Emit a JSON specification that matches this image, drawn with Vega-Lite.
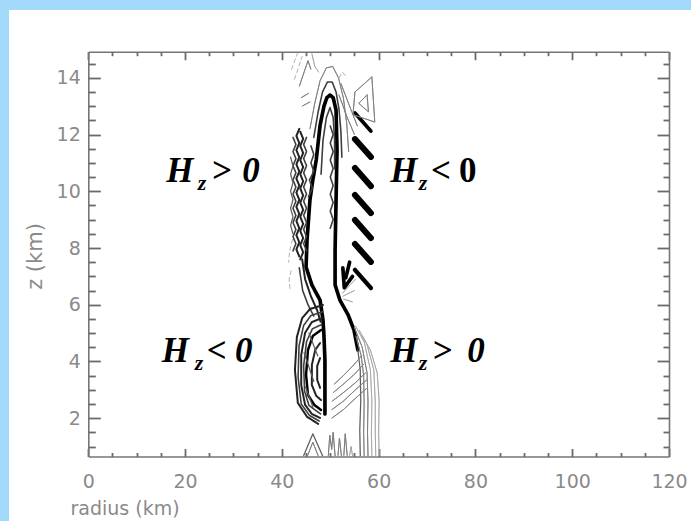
{
  "$schema": "https://vega.github.io/schema/vega-lite/v6.json",
  "width": 682,
  "height": 511,
  "padding": {"left": 9, "top": 10, "right": 0, "bottom": 0},
  "autosize": {"type": "none"},
  "background": "#a3d9fa",
  "config": {
    "view": {"fill": "white", "stroke": null},
    "axis": {
      "grid": false,
      "domainColor": "#767676",
      "domainWidth": 1.6,
      "ticks": true,
      "tickColor": "#6a6a6a",
      "tickWidth": 1.8,
      "tickOpacity": 1,
      "labelColor": "#8a8a8a",
      "labelFont": "DejaVu Sans",
      "labelFontSize": 19,
      "titleColor": "#8a8a8a",
      "titleFont": "DejaVu Sans",
      "titleFontSize": 19,
      "titleFontWeight": "normal",
      "labelOverlap": false,
      "labelFlush": false
    }
  },
  "resolve": {"axis": {"x": "independent", "y": "independent"}},
  "layer": [
    {
      "data": {
        "values": [
          {"c":1,"v":9,"s":"p","r":48.9,"z":2.15},{"c":1,"v":9,"s":"p","r":48.9,"z":3.0},{"c":1,"v":9,"s":"p","r":48.9,"z":4.05},{"c":1,"v":9,"s":"p","r":48.7,"z":4.9},{"c":1,"v":9,"s":"p","r":48.5,"z":5.46},{"c":1,"v":9,"s":"p","r":47.9,"z":6.16},{"c":1,"v":9,"s":"p","r":46.2,"z":6.7},{"c":1,"v":9,"s":"p","r":45.0,"z":7.33},{"c":1,"v":9,"s":"p","r":45.2,"z":8.28},{"c":1,"v":9,"s":"p","r":45.8,"z":9.69},{"c":1,"v":9,"s":"p","r":46.4,"z":10.4},{"c":1,"v":9,"s":"p","r":47.1,"z":11.1},{"c":1,"v":9,"s":"p","r":47.9,"z":12.33},{"c":1,"v":9,"s":"p","r":48.7,"z":13.0},{"c":1,"v":9,"s":"p","r":49.3,"z":13.3},{"c":1,"v":9,"s":"p","r":49.95,"z":13.39},{"c":1,"v":9,"s":"p","r":50.6,"z":13.3},{"c":1,"v":9,"s":"p","r":51.2,"z":12.86},{"c":1,"v":9,"s":"p","r":51.4,"z":11.45},{"c":1,"v":9,"s":"p","r":51.2,"z":9.69},{"c":1,"v":9,"s":"p","r":51.0,"z":7.93},{"c":1,"v":9,"s":"p","r":51.0,"z":6.7},{"c":1,"v":9,"s":"p","r":52.0,"z":6.16},{"c":1,"v":9,"s":"p","r":53.7,"z":5.64},{"c":1,"v":9,"s":"p","r":54.9,"z":5.11},{"c":1,"v":9,"s":"p","r":55.7,"z":4.41},

          {"c":2,"v":5,"s":"p","r":48.1,"z":10.6},{"c":2,"v":5,"s":"p","r":48.5,"z":11.8},{"c":2,"v":5,"s":"p","r":49.2,"z":12.6},{"c":2,"v":5,"s":"p","r":49.95,"z":12.95},{"c":2,"v":5,"s":"p","r":50.6,"z":12.6},{"c":2,"v":5,"s":"p","r":50.9,"z":11.8},{"c":2,"v":5,"s":"p","r":50.9,"z":10.8},

          {"c":3,"v":5,"s":"p","r":46.6,"z":11.9},{"c":3,"v":5,"s":"p","r":47.5,"z":12.8},{"c":3,"v":5,"s":"p","r":48.4,"z":13.5},{"c":3,"v":5,"s":"p","r":49.4,"z":13.85},{"c":3,"v":5,"s":"p","r":50.4,"z":13.85},{"c":3,"v":5,"s":"p","r":51.2,"z":13.5},{"c":3,"v":5,"s":"p","r":51.8,"z":12.9},{"c":3,"v":5,"s":"p","r":52.2,"z":12.1},{"c":3,"v":5,"s":"p","r":52.4,"z":11.2},

          {"c":4,"v":3,"s":"p","r":45.8,"z":12.2},{"c":4,"v":3,"s":"p","r":46.8,"z":13.1},{"c":4,"v":3,"s":"p","r":47.9,"z":13.9},{"c":4,"v":3,"s":"p","r":49.2,"z":14.35},{"c":4,"v":3,"s":"p","r":50.5,"z":14.4},{"c":4,"v":3,"s":"p","r":51.7,"z":14.0},{"c":4,"v":3,"s":"p","r":52.7,"z":13.3},{"c":4,"v":3,"s":"p","r":53.4,"z":12.4},{"c":4,"v":3,"s":"p","r":53.8,"z":11.4},

          {"c":5,"v":9,"s":"p","r":55.1,"z":12.76},{"c":5,"v":9,"s":"p","r":58.4,"z":12.12},
          {"c":6,"v":12,"s":"p","r":55.1,"z":11.84},{"c":6,"v":12,"s":"p","r":58.4,"z":11.21},
          {"c":7,"v":12,"s":"p","r":55.1,"z":10.82},{"c":7,"v":12,"s":"p","r":58.4,"z":10.18},
          {"c":8,"v":12,"s":"p","r":55.1,"z":9.87},{"c":8,"v":12,"s":"p","r":58.4,"z":9.23},
          {"c":9,"v":12,"s":"p","r":55.1,"z":8.99},{"c":9,"v":12,"s":"p","r":58.4,"z":8.35},
          {"c":10,"v":12,"s":"p","r":55.1,"z":8.14},{"c":10,"v":12,"s":"p","r":58.4,"z":7.51},
          {"c":11,"v":10,"s":"p","r":55.1,"z":7.23},{"c":11,"v":10,"s":"p","r":58.4,"z":6.59},

          {"c":12,"v":3,"s":"p","r":51.8,"z":13.4},{"c":12,"v":3,"s":"p","r":53.5,"z":12.6},{"c":12,"v":3,"s":"p","r":55.0,"z":12.0},
          {"c":13,"v":3,"s":"p","r":52.2,"z":13.8},{"c":13,"v":3,"s":"p","r":54.0,"z":13.0},{"c":13,"v":3,"s":"p","r":55.6,"z":12.3},
          {"c":14,"v":3,"s":"p","r":58.6,"z":14.03},{"c":14,"v":3,"s":"p","r":55.1,"z":13.5},{"c":14,"v":3,"s":"p","r":54.7,"z":12.7},{"c":14,"v":3,"s":"p","r":59.2,"z":12.44},{"c":14,"v":3,"s":"p","r":58.6,"z":14.03},
          {"c":15,"v":3,"s":"p","r":57.6,"z":13.4},{"c":15,"v":3,"s":"p","r":55.9,"z":13.1},{"c":15,"v":3,"s":"p","r":57.9,"z":12.8},{"c":15,"v":3,"s":"p","r":57.6,"z":13.4},

          {"c":16,"v":2,"s":"n","r":42.0,"z":14.3},{"c":16,"v":2,"s":"n","r":43.2,"z":14.85},
          {"c":17,"v":2,"s":"n","r":42.6,"z":13.95},{"c":17,"v":2,"s":"n","r":44.2,"z":14.75},
          {"c":18,"v":3,"s":"p","r":43.6,"z":13.7},{"c":18,"v":3,"s":"p","r":45.4,"z":14.6},{"c":18,"v":3,"s":"p","r":46.0,"z":14.3},
          {"c":19,"v":3,"s":"p","r":44.0,"z":13.3},{"c":19,"v":3,"s":"p","r":45.5,"z":13.45},
          {"c":20,"v":3,"s":"p","r":44.2,"z":13.0},{"c":20,"v":3,"s":"p","r":45.8,"z":13.15},
          {"c":21,"v":2,"s":"p","r":46.2,"z":14.85},{"c":21,"v":2,"s":"p","r":46.8,"z":14.4},{"c":21,"v":2,"s":"p","r":47.6,"z":14.2},
          {"c":22,"v":2,"s":"n","r":51.8,"z":14.0},{"c":22,"v":2,"s":"n","r":52.5,"z":14.2},{"c":22,"v":2,"s":"n","r":53.3,"z":14.05},

          {"c":23,"v":5,"s":"p","r":42.3,"z":11.9},{"c":23,"v":5,"s":"p","r":42.9,"z":11.65},{"c":23,"v":5,"s":"p","r":42.3,"z":11.4},{"c":23,"v":5,"s":"p","r":42.9,"z":11.15},{"c":23,"v":5,"s":"p","r":42.3,"z":10.9},{"c":23,"v":5,"s":"p","r":42.9,"z":10.65},{"c":23,"v":5,"s":"p","r":42.3,"z":10.4},{"c":23,"v":5,"s":"p","r":42.9,"z":10.15},{"c":23,"v":5,"s":"p","r":42.3,"z":9.9},{"c":23,"v":5,"s":"p","r":42.9,"z":9.65},{"c":23,"v":5,"s":"p","r":42.3,"z":9.4},{"c":23,"v":5,"s":"p","r":42.9,"z":9.15},{"c":23,"v":5,"s":"p","r":42.3,"z":8.9},{"c":23,"v":5,"s":"p","r":42.9,"z":8.65},{"c":23,"v":5,"s":"p","r":42.3,"z":8.4},{"c":23,"v":5,"s":"p","r":42.9,"z":8.15},{"c":23,"v":5,"s":"p","r":42.3,"z":7.9},

          {"c":24,"v":6,"s":"p","r":43.6,"z":12.2},{"c":24,"v":6,"s":"p","r":43.0,"z":11.95},{"c":24,"v":6,"s":"p","r":43.6,"z":11.7},{"c":24,"v":6,"s":"p","r":43.0,"z":11.45},{"c":24,"v":6,"s":"p","r":43.6,"z":11.2},{"c":24,"v":6,"s":"p","r":43.0,"z":10.95},{"c":24,"v":6,"s":"p","r":43.6,"z":10.7},{"c":24,"v":6,"s":"p","r":43.0,"z":10.45},{"c":24,"v":6,"s":"p","r":43.6,"z":10.2},{"c":24,"v":6,"s":"p","r":43.0,"z":9.95},{"c":24,"v":6,"s":"p","r":43.6,"z":9.7},{"c":24,"v":6,"s":"p","r":43.0,"z":9.45},{"c":24,"v":6,"s":"p","r":43.6,"z":9.2},{"c":24,"v":6,"s":"p","r":43.0,"z":8.95},{"c":24,"v":6,"s":"p","r":43.6,"z":8.7},{"c":24,"v":6,"s":"p","r":43.0,"z":8.45},{"c":24,"v":6,"s":"p","r":43.6,"z":8.2},{"c":24,"v":6,"s":"p","r":43.0,"z":7.95},{"c":24,"v":6,"s":"p","r":43.6,"z":7.7},

          {"c":25,"v":6,"s":"p","r":43.8,"z":12.1},{"c":25,"v":6,"s":"p","r":44.4,"z":11.85},{"c":25,"v":6,"s":"p","r":43.8,"z":11.6},{"c":25,"v":6,"s":"p","r":44.4,"z":11.35},{"c":25,"v":6,"s":"p","r":43.8,"z":11.1},{"c":25,"v":6,"s":"p","r":44.4,"z":10.85},{"c":25,"v":6,"s":"p","r":43.8,"z":10.6},{"c":25,"v":6,"s":"p","r":44.4,"z":10.35},{"c":25,"v":6,"s":"p","r":43.8,"z":10.1},{"c":25,"v":6,"s":"p","r":44.4,"z":9.85},{"c":25,"v":6,"s":"p","r":43.8,"z":9.6},{"c":25,"v":6,"s":"p","r":44.4,"z":9.35},{"c":25,"v":6,"s":"p","r":43.8,"z":9.1},{"c":25,"v":6,"s":"p","r":44.4,"z":8.85},{"c":25,"v":6,"s":"p","r":43.8,"z":8.6},{"c":25,"v":6,"s":"p","r":44.4,"z":8.35},{"c":25,"v":6,"s":"p","r":43.8,"z":8.1},{"c":25,"v":6,"s":"p","r":44.4,"z":7.85},{"c":25,"v":6,"s":"p","r":43.8,"z":7.6},

          {"c":26,"v":5,"s":"p","r":45.1,"z":11.9},{"c":26,"v":5,"s":"p","r":44.5,"z":11.65},{"c":26,"v":5,"s":"p","r":45.1,"z":11.4},{"c":26,"v":5,"s":"p","r":44.5,"z":11.15},{"c":26,"v":5,"s":"p","r":45.1,"z":10.9},{"c":26,"v":5,"s":"p","r":44.5,"z":10.65},{"c":26,"v":5,"s":"p","r":45.1,"z":10.4},{"c":26,"v":5,"s":"p","r":44.5,"z":10.15},{"c":26,"v":5,"s":"p","r":45.1,"z":9.9},{"c":26,"v":5,"s":"p","r":44.5,"z":9.65},{"c":26,"v":5,"s":"p","r":45.1,"z":9.4},{"c":26,"v":5,"s":"p","r":44.5,"z":9.15},{"c":26,"v":5,"s":"p","r":45.1,"z":8.9},{"c":26,"v":5,"s":"p","r":44.5,"z":8.65},{"c":26,"v":5,"s":"p","r":45.1,"z":8.4},{"c":26,"v":5,"s":"p","r":44.5,"z":8.15},{"c":26,"v":5,"s":"p","r":45.1,"z":7.9},

          {"c":58,"v":4,"s":"p","r":41.8,"z":11.2},{"c":58,"v":4,"s":"p","r":42.3,"z":10.9},{"c":58,"v":4,"s":"p","r":41.8,"z":10.6},{"c":58,"v":4,"s":"p","r":42.3,"z":10.3},{"c":58,"v":4,"s":"p","r":41.8,"z":10.0},{"c":58,"v":4,"s":"p","r":42.3,"z":9.7},{"c":58,"v":4,"s":"p","r":41.8,"z":9.4},{"c":58,"v":4,"s":"p","r":42.3,"z":9.1},{"c":58,"v":4,"s":"p","r":41.8,"z":8.8},{"c":58,"v":4,"s":"p","r":42.3,"z":8.5},

          {"c":59,"v":5,"s":"p","r":46.0,"z":11.6},{"c":59,"v":5,"s":"p","r":46.6,"z":11.3},{"c":59,"v":5,"s":"p","r":46.0,"z":11.0},{"c":59,"v":5,"s":"p","r":46.6,"z":10.7},{"c":59,"v":5,"s":"p","r":45.7,"z":10.4},{"c":59,"v":5,"s":"p","r":46.3,"z":10.1},{"c":59,"v":5,"s":"p","r":45.5,"z":9.8},

          {"c":27,"v":5,"s":"p","r":50.0,"z":12.3},{"c":27,"v":5,"s":"p","r":50.6,"z":12.0},{"c":27,"v":5,"s":"p","r":50.0,"z":11.7},{"c":27,"v":5,"s":"p","r":50.6,"z":11.4},{"c":27,"v":5,"s":"p","r":50.0,"z":11.1},{"c":27,"v":5,"s":"p","r":50.6,"z":10.8},{"c":27,"v":5,"s":"p","r":50.0,"z":10.5},{"c":27,"v":5,"s":"p","r":50.6,"z":10.2},{"c":27,"v":5,"s":"p","r":50.0,"z":9.9},{"c":27,"v":5,"s":"p","r":50.6,"z":9.6},{"c":27,"v":5,"s":"p","r":50.0,"z":9.3},{"c":27,"v":5,"s":"p","r":50.6,"z":9.0},{"c":27,"v":5,"s":"p","r":50.0,"z":8.7},

          {"c":28,"v":2,"s":"n","r":42.2,"z":8.3},{"c":28,"v":2,"s":"n","r":41.6,"z":7.9},{"c":28,"v":2,"s":"n","r":41.4,"z":7.5},
          {"c":29,"v":2,"s":"n","r":41.9,"z":7.2},{"c":29,"v":2,"s":"n","r":41.5,"z":6.9},{"c":29,"v":2,"s":"n","r":41.7,"z":6.5},
          {"c":30,"v":6,"s":"p","r":44.2,"z":7.6},{"c":30,"v":6,"s":"p","r":44.8,"z":6.9},{"c":30,"v":6,"s":"p","r":46.0,"z":6.3},{"c":30,"v":6,"s":"p","r":47.3,"z":5.8},{"c":30,"v":6,"s":"p","r":48.0,"z":5.4},
          {"c":31,"v":5,"s":"p","r":43.6,"z":7.3},{"c":31,"v":5,"s":"p","r":44.3,"z":6.5},{"c":31,"v":5,"s":"p","r":45.4,"z":6.0},{"c":31,"v":5,"s":"p","r":46.6,"z":5.6},
          {"c":32,"v":9,"s":"p","r":52.6,"z":7.3},{"c":32,"v":9,"s":"p","r":52.9,"z":6.6},{"c":32,"v":9,"s":"p","r":54.6,"z":7.0},
          {"c":33,"v":9,"s":"p","r":53.2,"z":6.95},{"c":33,"v":9,"s":"p","r":54.0,"z":7.5},
          {"c":34,"v":2,"s":"p","r":52.5,"z":6.4},{"c":34,"v":2,"s":"p","r":55.2,"z":6.9},
          {"c":35,"v":2,"s":"p","r":52.6,"z":6.3},{"c":35,"v":2,"s":"p","r":55.0,"z":6.5},
          {"c":36,"v":2,"s":"p","r":52.7,"z":6.2},{"c":36,"v":2,"s":"p","r":54.6,"z":6.1}
        ]
      },
      "mark": {"type": "line", "clip": true, "strokeCap": "round", "strokeJoin": "round"},
      "encoding": {
        "x": {
          "field": "r", "type": "quantitative",
          "scale": {"domain": [0, 120], "range": [79.3, 660], "nice": false, "zero": false},
          "axis": {
            "orient": "bottom",
            "offset": -64.5,
            "values": [0, 20, 40, 60, 80, 100, 120],
            "ticks": false,
            "labelPadding": 16,
            "title": "radius (km)",
            "titleX": 61,
            "titleY": 51.5,
            "titleAlign": "left",
            "titleBaseline": "middle"
          }
        },
        "y": {
          "field": "z", "type": "quantitative",
          "scale": {"domain": [0.65, 14.92], "range": [446.5, 41.7], "nice": false, "zero": false},
          "axis": {
            "orient": "left",
            "offset": -79.3,
            "values": [2, 4, 6, 8, 10, 12, 14],
            "ticks": false,
            "labelPadding": 8,
            "title": "z (km)",
            "titleFontSize": 21,
            "titleX": -53,
            "titleY": 246,
            "titleAngle": -90,
            "titleAlign": "center",
            "titleBaseline": "middle"
          }
        },
        "detail": {"field": "c", "type": "nominal"},
        "order": {"value": null},
        "color": {"field": "v", "type": "quantitative", "scale": {"domain": [1, 7], "range": ["#c4c4c4", "#000000"], "clamp": true}, "legend": null},
        "strokeWidth": {"field": "v", "type": "quantitative", "scale": {"type": "pow", "exponent": 2, "domain": [1, 12], "range": [0.7, 6]}, "legend": null},
        "strokeDash": {"field": "s", "type": "nominal", "scale": {"domain": ["p", "n"], "range": [[1, 0], [4, 3]]}, "legend": null}
      }
    },
    {
      "data": {
        "values": [
          {"c":37,"v":6,"s":"p","r":48.5,"z":5.99},{"c":37,"v":6,"s":"p","r":45.8,"z":5.85},{"c":37,"v":6,"s":"p","r":44.2,"z":5.53},{"c":37,"v":6,"s":"p","r":43.1,"z":4.86},{"c":37,"v":6,"s":"p","r":42.7,"z":3.7},{"c":37,"v":6,"s":"p","r":43.3,"z":2.54},{"c":37,"v":6,"s":"p","r":45.2,"z":2.05},{"c":37,"v":6,"s":"p","r":47.5,"z":1.8},
          {"c":60,"v":5,"s":"p","r":48.4,"z":5.75},{"c":60,"v":5,"s":"p","r":46.0,"z":5.62},{"c":60,"v":5,"s":"p","r":44.5,"z":5.27},{"c":60,"v":5,"s":"p","r":43.55,"z":4.55},{"c":60,"v":5,"s":"p","r":43.35,"z":3.45},{"c":60,"v":5,"s":"p","r":44.0,"z":2.5},{"c":60,"v":5,"s":"p","r":45.7,"z":2.1},{"c":60,"v":5,"s":"p","r":47.7,"z":1.9},
          {"c":38,"v":6,"s":"p","r":48.3,"z":5.53},{"c":38,"v":6,"s":"p","r":46.2,"z":5.39},{"c":38,"v":6,"s":"p","r":44.8,"z":5.01},{"c":38,"v":6,"s":"p","r":44.0,"z":4.23},{"c":38,"v":6,"s":"p","r":44.0,"z":3.17},{"c":38,"v":6,"s":"p","r":44.8,"z":2.47},{"c":38,"v":6,"s":"p","r":46.2,"z":2.15},{"c":38,"v":6,"s":"p","r":47.9,"z":2.01},
          {"c":61,"v":5,"s":"p","r":48.2,"z":5.3},{"c":61,"v":5,"s":"p","r":46.3,"z":5.15},{"c":61,"v":5,"s":"p","r":45.1,"z":4.7},{"c":61,"v":5,"s":"p","r":44.5,"z":3.85},{"c":61,"v":5,"s":"p","r":44.7,"z":2.95},{"c":61,"v":5,"s":"p","r":45.6,"z":2.45},{"c":61,"v":5,"s":"p","r":48.0,"z":2.15},
          {"c":39,"v":7,"s":"p","r":48.1,"z":5.11},{"c":39,"v":7,"s":"p","r":46.4,"z":4.9},{"c":39,"v":7,"s":"p","r":45.4,"z":4.41},{"c":39,"v":7,"s":"p","r":45.0,"z":3.53},{"c":39,"v":7,"s":"p","r":45.4,"z":2.82},{"c":39,"v":7,"s":"p","r":46.7,"z":2.47},{"c":39,"v":7,"s":"p","r":48.1,"z":2.29},
          {"c":40,"v":6,"s":"p","r":47.9,"z":4.65},{"c":40,"v":6,"s":"p","r":46.9,"z":4.41},{"c":40,"v":6,"s":"p","r":46.2,"z":3.88},{"c":40,"v":6,"s":"p","r":46.2,"z":3.17},{"c":40,"v":6,"s":"p","r":47.1,"z":2.79},{"c":40,"v":6,"s":"p","r":48.1,"z":2.64},
          {"c":41,"v":6,"s":"p","r":47.9,"z":4.12},{"c":41,"v":6,"s":"p","r":47.3,"z":3.84},{"c":41,"v":6,"s":"p","r":47.3,"z":3.35},{"c":41,"v":6,"s":"p","r":47.9,"z":3.07},
          {"c":62,"v":4,"s":"p","r":45.6,"z":5.0},{"c":62,"v":4,"s":"p","r":47.4,"z":4.2},
          {"c":63,"v":4,"s":"p","r":44.6,"z":4.3},{"c":63,"v":4,"s":"p","r":46.6,"z":3.3},
          {"c":64,"v":4,"s":"p","r":44.9,"z":3.1},{"c":64,"v":4,"s":"p","r":46.4,"z":2.4},

          {"c":42,"v":4,"s":"p","r":44.5,"z":0.68},{"c":42,"v":4,"s":"p","r":46.4,"z":1.45},{"c":42,"v":4,"s":"p","r":48.4,"z":0.68},
          {"c":43,"v":3,"s":"p","r":45.3,"z":0.68},{"c":43,"v":3,"s":"p","r":46.4,"z":1.15},{"c":43,"v":3,"s":"p","r":47.5,"z":0.68},
          {"c":44,"v":3,"s":"p","r":49.6,"z":0.68},{"c":44,"v":3,"s":"p","r":49.9,"z":1.4},{"c":44,"v":3,"s":"p","r":50.3,"z":0.9},{"c":44,"v":3,"s":"p","r":50.6,"z":1.5},{"c":44,"v":3,"s":"p","r":51.0,"z":0.68},
          {"c":45,"v":3,"s":"p","r":51.6,"z":0.68},{"c":45,"v":3,"s":"p","r":51.9,"z":1.3},{"c":45,"v":3,"s":"p","r":52.3,"z":0.68},
          {"c":46,"v":3,"s":"p","r":52.8,"z":0.68},{"c":46,"v":3,"s":"p","r":53.1,"z":1.45},{"c":46,"v":3,"s":"p","r":53.5,"z":0.68},
          {"c":47,"v":2,"s":"p","r":54.0,"z":0.68},{"c":47,"v":2,"s":"p","r":54.3,"z":1.0},{"c":47,"v":2,"s":"p","r":54.6,"z":0.68},

          {"c":48,"v":4,"s":"p","r":55.7,"z":4.41},{"c":48,"v":4,"s":"p","r":56.2,"z":3.7},{"c":48,"v":4,"s":"p","r":56.3,"z":2.6},{"c":48,"v":4,"s":"p","r":56.1,"z":1.6},{"c":48,"v":4,"s":"p","r":56.2,"z":0.68},
          {"c":49,"v":3,"s":"p","r":55.3,"z":4.9},{"c":49,"v":3,"s":"p","r":56.4,"z":4.2},{"c":49,"v":3,"s":"p","r":56.9,"z":3.5},{"c":49,"v":3,"s":"p","r":57.0,"z":2.5},{"c":49,"v":3,"s":"p","r":56.9,"z":1.5},{"c":49,"v":3,"s":"p","r":57.0,"z":0.68},
          {"c":50,"v":3,"s":"p","r":55.0,"z":5.2},{"c":50,"v":3,"s":"p","r":56.6,"z":4.5},{"c":50,"v":3,"s":"p","r":57.6,"z":3.6},{"c":50,"v":3,"s":"p","r":57.8,"z":2.6},{"c":50,"v":3,"s":"p","r":57.7,"z":1.5},{"c":50,"v":3,"s":"p","r":57.8,"z":0.68},
          {"c":51,"v":2,"s":"p","r":55.2,"z":5.25},{"c":51,"v":2,"s":"p","r":57.0,"z":4.7},{"c":51,"v":2,"s":"p","r":58.3,"z":3.7},{"c":51,"v":2,"s":"p","r":58.6,"z":2.6},{"c":51,"v":2,"s":"p","r":58.5,"z":1.5},{"c":51,"v":2,"s":"p","r":58.6,"z":0.68},
          {"c":52,"v":2,"s":"p","r":56.0,"z":5.1},{"c":52,"v":2,"s":"p","r":57.6,"z":4.6},{"c":52,"v":2,"s":"p","r":59.0,"z":3.7},{"c":52,"v":2,"s":"p","r":59.3,"z":2.6},{"c":52,"v":2,"s":"p","r":59.3,"z":1.5},{"c":52,"v":2,"s":"p","r":59.4,"z":0.68},
          {"c":65,"v":2,"s":"p","r":56.6,"z":4.9},{"c":65,"v":2,"s":"p","r":58.3,"z":4.4},{"c":65,"v":2,"s":"p","r":59.7,"z":3.6},{"c":65,"v":2,"s":"p","r":60.1,"z":2.6},{"c":65,"v":2,"s":"p","r":60.0,"z":1.5},{"c":65,"v":2,"s":"p","r":60.1,"z":0.68},

          {"c":53,"v":3,"s":"p","r":50.3,"z":2.0},{"c":53,"v":3,"s":"p","r":52.7,"z":2.3},{"c":53,"v":3,"s":"p","r":55.2,"z":2.7},{"c":53,"v":3,"s":"p","r":57.5,"z":3.05},
          {"c":54,"v":3,"s":"p","r":50.3,"z":2.3},{"c":54,"v":3,"s":"p","r":52.7,"z":2.6},{"c":54,"v":3,"s":"p","r":55.2,"z":3.0},{"c":54,"v":3,"s":"p","r":57.5,"z":3.35},
          {"c":55,"v":3,"s":"p","r":50.4,"z":2.6},{"c":55,"v":3,"s":"p","r":52.7,"z":2.9},{"c":55,"v":3,"s":"p","r":55.2,"z":3.25},{"c":55,"v":3,"s":"p","r":57.3,"z":3.6},
          {"c":56,"v":3,"s":"p","r":50.6,"z":2.9},{"c":56,"v":3,"s":"p","r":52.7,"z":3.2},{"c":56,"v":3,"s":"p","r":55.0,"z":3.55},{"c":56,"v":3,"s":"p","r":56.9,"z":3.9},
          {"c":57,"v":3,"s":"p","r":50.8,"z":3.2},{"c":57,"v":3,"s":"p","r":52.7,"z":3.5},{"c":57,"v":3,"s":"p","r":54.7,"z":3.85},{"c":57,"v":3,"s":"p","r":56.5,"z":4.2}
        ]
      },
      "mark": {"type": "line", "clip": true, "strokeCap": "round", "strokeJoin": "round"},
      "encoding": {
        "x": {
          "field": "r", "type": "quantitative",
          "scale": {"domain": [0, 120], "range": [79.3, 660], "nice": false, "zero": false},
          "axis": {"orient": "top", "offset": -41.7, "ticks": false, "labels": false, "title": null, "values": [0, 120]}
        },
        "y": {
          "field": "z", "type": "quantitative",
          "scale": {"domain": [0.65, 14.92], "range": [446.5, 41.7], "nice": false, "zero": false},
          "axis": {"orient": "right", "offset": -22, "ticks": false, "labels": false, "title": null, "values": [2, 14]}
        },
        "detail": {"field": "c", "type": "nominal"},
        "order": {"value": null},
        "color": {"field": "v", "type": "quantitative", "scale": {"domain": [1, 7], "range": ["#c4c4c4", "#000000"], "clamp": true}, "legend": null},
        "strokeWidth": {"field": "v", "type": "quantitative", "scale": {"type": "pow", "exponent": 2, "domain": [1, 12], "range": [0.7, 6]}, "legend": null},
        "strokeDash": {"field": "s", "type": "nominal", "scale": {"domain": ["p", "n"], "range": [[1, 0], [4, 3]]}, "legend": null}
      }
    },
    {
      "data": {
        "values": [
          {"r": 16.1, "z": 10.33, "t": "H"}, {"r": 25.4, "z": 10.33, "t": ">"}, {"r": 31.8, "z": 10.33, "t": "0"},
          {"r": 62.4, "z": 10.33, "t": "H"}
        ]
      },
      "mark": {"type": "text", "font": "Liberation Serif", "fontSize": 35, "fontWeight": "bold", "fontStyle": "italic", "align": "left", "baseline": "alphabetic", "color": "#000000"},
      "encoding": {
        "x": {
          "field": "r", "type": "quantitative",
          "scale": {"domain": [0, 120], "range": [79.3, 660], "nice": false, "zero": false},
          "axis": {"orient": "bottom", "offset": -72.5, "domain": false, "labels": false, "title": null, "ticks": true, "tickSize": 8, "values": [0, 20, 40, 60, 80, 100, 120]}
        },
        "y": {
          "field": "z", "type": "quantitative",
          "scale": {"domain": [0.65, 14.92], "range": [446.5, 41.7], "nice": false, "zero": false},
          "axis": {"orient": "left", "offset": -91.3, "domain": false, "labels": false, "title": null, "ticks": true, "tickSize": 12, "values": [2, 4, 6, 8, 10, 12, 14]}
        },
        "text": {"field": "t", "type": "nominal"}
      }
    },
    {
      "data": {
        "values": [
          {"r": 15.2, "z": 3.98, "t": "H"}, {"r": 24.5, "z": 3.98, "t": "<"}, {"r": 30.3, "z": 3.98, "t": "0"},
          {"r": 62.4, "z": 3.98, "t": "H"}, {"r": 71.0, "z": 3.98, "t": ">"}, {"r": 78.3, "z": 3.98, "t": "0"}
        ]
      },
      "mark": {"type": "text", "font": "Liberation Serif", "fontSize": 35, "fontWeight": "bold", "fontStyle": "italic", "align": "left", "baseline": "alphabetic", "color": "#000000"},
      "encoding": {
        "x": {
          "field": "r", "type": "quantitative",
          "scale": {"domain": [0, 120], "range": [79.3, 660], "nice": false, "zero": false},
          "axis": {"orient": "bottom", "offset": -68.5, "domain": false, "labels": false, "title": null, "ticks": true, "tickSize": 4, "values": [5, 10, 15, 25, 30, 35, 45, 50, 55, 65, 70, 75, 85, 90, 95, 105, 110, 115]}
        },
        "y": {
          "field": "z", "type": "quantitative",
          "scale": {"domain": [0.65, 14.92], "range": [446.5, 41.7], "nice": false, "zero": false},
          "axis": {"orient": "left", "offset": -86.3, "domain": false, "labels": false, "title": null, "ticks": true, "tickSize": 7, "values": [1, 1.5, 2.5, 3, 3.5, 4.5, 5, 5.5, 6.5, 7, 7.5, 8.5, 9, 9.5, 10.5, 11, 11.5, 12.5, 13, 13.5, 14.5]}
        },
        "text": {"field": "t", "type": "nominal"}
      }
    },
    {
      "data": {
        "values": [
          {"r": 22.6, "z": 10.06, "t": "z"}, {"r": 68.3, "z": 10.06, "t": "z"},
          {"r": 22.0, "z": 3.7, "t": "z"}, {"r": 68.3, "z": 3.7, "t": "z"}
        ]
      },
      "mark": {"type": "text", "font": "Liberation Serif", "fontSize": 22, "fontWeight": "bold", "fontStyle": "italic", "align": "left", "baseline": "alphabetic", "color": "#000000"},
      "encoding": {
        "x": {
          "field": "r", "type": "quantitative",
          "scale": {"domain": [0, 120], "range": [79.3, 660], "nice": false, "zero": false},
          "axis": {"orient": "top", "offset": -49.7, "domain": false, "labels": false, "title": null, "ticks": true, "tickSize": 8, "values": [0, 20, 40, 60, 80, 100, 120]}
        },
        "y": {
          "field": "z", "type": "quantitative",
          "scale": {"domain": [0.65, 14.92], "range": [446.5, 41.7], "nice": false, "zero": false},
          "axis": {"orient": "right", "offset": -34, "domain": false, "labels": false, "title": null, "ticks": true, "tickSize": 12, "values": [2, 4, 6, 8, 10, 12, 14]}
        },
        "text": {"field": "t", "type": "nominal"}
      }
    },
    {
      "data": {
        "values": [
          {"r": 70.8, "z": 10.33, "t": "<"}, {"r": 76.6, "z": 10.33, "t": "0"}
        ]
      },
      "mark": {"type": "text", "font": "Liberation Serif", "fontSize": 35, "fontWeight": "bold", "align": "left", "baseline": "alphabetic", "color": "#000000"},
      "encoding": {
        "x": {
          "field": "r", "type": "quantitative",
          "scale": {"domain": [0, 120], "range": [79.3, 660], "nice": false, "zero": false},
          "axis": {"orient": "top", "offset": -45.7, "domain": false, "labels": false, "title": null, "ticks": true, "tickSize": 4, "values": [5, 10, 15, 25, 30, 35, 45, 50, 55, 65, 70, 75, 85, 90, 95, 105, 110, 115]}
        },
        "y": {
          "field": "z", "type": "quantitative",
          "scale": {"domain": [0.65, 14.92], "range": [446.5, 41.7], "nice": false, "zero": false},
          "axis": {"orient": "right", "offset": -28, "domain": false, "labels": false, "title": null, "ticks": true, "tickSize": 6, "values": [1, 1.5, 2.5, 3, 3.5, 4.5, 5, 5.5, 6.5, 7, 7.5, 8.5, 9, 9.5, 10.5, 11, 11.5, 12.5, 13, 13.5, 14.5]}
        },
        "text": {"field": "t", "type": "nominal"}
      }
    }
  ]
}
